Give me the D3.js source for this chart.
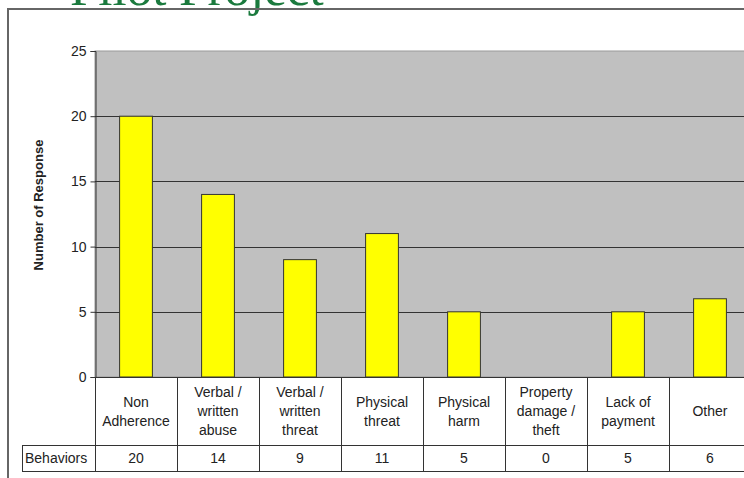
<!DOCTYPE html>
<html>
<head>
<meta charset="utf-8">
<script src="https://cdn.jsdelivr.net/npm/d3@7"></script>
<style>
  body { margin: 0; background: #fff; }
  svg { display: block; font-family: "Liberation Sans", Arial, sans-serif; }
</style>
</head>
<body>
<div id="chart"></div>
<script>
// Values
var categories = ["Non Adherence", "Verbal / written abuse", "Verbal / written threat",
                  "Physical threat", "Physical harm", "Property damage / theft",
                  "Lack of payment", "Other"];
// how each category label wraps in the table
var categoryLines = [["Non", "Adherence"], ["Verbal /", "written", "abuse"],
                     ["Verbal /", "written", "threat"], ["Physical", "threat"],
                     ["Physical", "harm"], ["Property", "damage /", "theft"],
                     ["Lack of", "payment"], ["Other"]];
var behaviors = [20, 14, 9, 11, 5, 0, 5, 6];
var yTicks = [0, 5, 10, 15, 20, 25];
var seriesName = "Behaviors";

var width = 744, height = 478;
var plot = {left: 95, top: 51, bottom: 377, bandWidth: 82};
var labelRowBottom = 445, valueRowBottom = 471;
var lineColor = "#333";

var svg = d3.select("#chart").append("svg")
    .attr("width", width)
    .attr("height", height);

// slide title, mostly cut off at the top
svg.append("text")
    .attr("x", 70)
    .attr("y", 5)
    .attr("font-family", "'Liberation Serif', 'Times New Roman', serif")
    .attr("font-size", 51)
    .attr("fill", "#1b7a3e")
    .text("Pilot Project");

// outer frame of the embedded chart
svg.append("rect")
    .attr("x", 8).attr("y", 9)
    .attr("width", 760).attr("height", 490)
    .attr("fill", "none")
    .attr("stroke", "#666")
    .attr("stroke-width", 2);

var x = d3.scaleBand()
    .domain(categories)
    .range([plot.left, plot.left + plot.bandWidth * categories.length]);
var y = d3.scaleLinear()
    .domain([0, 25])
    .range([plot.bottom, plot.top]);

// plot background
svg.append("rect")
    .attr("x", plot.left)
    .attr("y", y(25))
    .attr("width", x.range()[1] - plot.left)
    .attr("height", y(0) - y(25))
    .attr("fill", "#c0c0c0")
    .attr("stroke", "#999")
    .attr("stroke-width", 1);

// gridlines
svg.append("g").selectAll("line")
    .data(yTicks.filter(function(d) { return d > 0 && d < 25; }))
    .enter().append("line")
    .attr("x1", plot.left).attr("x2", x.range()[1])
    .attr("y1", function(d) { return Math.round(y(d)) + 0.5; })
    .attr("y2", function(d) { return Math.round(y(d)) + 0.5; })
    .attr("stroke", lineColor)
    .attr("stroke-width", 1);

// bars
var barW = x.bandwidth() * 0.4;
svg.append("g").selectAll("rect")
    .data(behaviors.map(function(v, i) { return {cat: categories[i], value: v}; })
        .filter(function(d) { return d.value > 0; }))
    .enter().append("rect")
    .attr("x", function(d) { return x(d.cat) + (x.bandwidth() - barW) / 2; })
    .attr("y", function(d) { return y(d.value); })
    .attr("width", barW)
    .attr("height", function(d) { return y(0) - y(d.value); })
    .attr("fill", "#ffff00")
    .attr("stroke", lineColor)
    .attr("stroke-width", 1);

// y axis
var yAxis = d3.axisLeft(y).tickValues(yTicks).tickSize(5).tickPadding(4);
var yAxisG = svg.append("g")
    .attr("transform", "translate(" + (plot.left + 0.5) + ",0)")
    .call(yAxis);
yAxisG.select(".domain").attr("stroke", lineColor);
yAxisG.selectAll("line").attr("stroke", lineColor);
yAxisG.selectAll("text")
    .attr("font-size", 14)
    .attr("font-family", "'Liberation Sans', Arial, sans-serif")
    .attr("fill", "#222");

svg.append("text")
    .attr("transform", "translate(43,205) rotate(-90)")
    .attr("text-anchor", "middle")
    .attr("font-size", 13)
    .attr("font-weight", "bold")
    .attr("fill", "#222")
    .text("Number of Response");

// data table under the plot
var table = svg.append("g").attr("stroke", lineColor).attr("stroke-width", 1);
var tableRight = x.range()[1];
table.append("line")
    .attr("x1", plot.left).attr("x2", tableRight)
    .attr("y1", plot.bottom + 0.5).attr("y2", plot.bottom + 0.5);
table.append("line")
    .attr("x1", 22).attr("x2", tableRight)
    .attr("y1", labelRowBottom + 0.5).attr("y2", labelRowBottom + 0.5);
table.append("line")
    .attr("x1", 22).attr("x2", tableRight)
    .attr("y1", valueRowBottom + 0.5).attr("y2", valueRowBottom + 0.5);
table.append("line")
    .attr("x1", 22.5).attr("x2", 22.5)
    .attr("y1", labelRowBottom).attr("y2", valueRowBottom);
table.selectAll("line.col")
    .data(categories)
    .enter().append("line")
    .attr("class", "col")
    .attr("x1", function(d) { return Math.round(x(d)) + 0.5; })
    .attr("x2", function(d) { return Math.round(x(d)) + 0.5; })
    .attr("y1", plot.bottom).attr("y2", valueRowBottom);

var lineH = 19;
var labels = svg.append("g")
    .attr("font-size", 14)
    .attr("fill", "#222")
    .attr("text-anchor", "middle");
categories.forEach(function(c, i) {
  var lines = categoryLines[i];
  var cy = (plot.bottom + labelRowBottom) / 2;
  var t = labels.append("text")
      .attr("x", x(c) + x.bandwidth() / 2)
      .attr("y", cy - (lines.length - 1) * lineH / 2 + 5);
  lines.forEach(function(l, j) {
    t.append("tspan")
        .attr("x", x(c) + x.bandwidth() / 2)
        .attr("dy", j === 0 ? 0 : lineH)
        .text(l);
  });
});

var values = svg.append("g")
    .attr("font-size", 14)
    .attr("fill", "#222")
    .attr("text-anchor", "middle");
values.selectAll("text")
    .data(behaviors)
    .enter().append("text")
    .attr("x", function(d, i) { return x(categories[i]) + x.bandwidth() / 2; })
    .attr("y", (labelRowBottom + valueRowBottom) / 2 + 5)
    .text(function(d) { return d; });
values.append("text")
    .attr("x", 25)
    .attr("y", (labelRowBottom + valueRowBottom) / 2 + 5)
    .attr("text-anchor", "start")
    .text(seriesName);
</script>
</body>
</html>
